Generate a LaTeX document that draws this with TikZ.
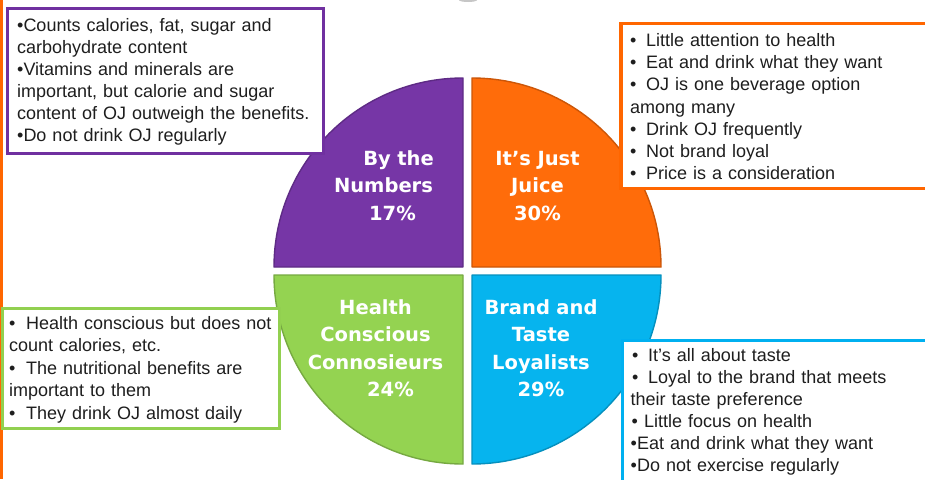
\documentclass[tikz,border=0pt]{standalone}
\usepackage{fontspec}
\setmainfont{Liberation Sans}
\newfontfamily\labelfont{DejaVu Sans}
\definecolor{cpurple}{HTML}{7636A6}
\definecolor{corange}{HTML}{FF6C0A}
\definecolor{cgreen}{HTML}{94D351}
\definecolor{cblue}{HTML}{06B4EE}
\definecolor{bpurple}{HTML}{7030A0}
\definecolor{borange}{HTML}{FF6600}
\definecolor{bgreen}{HTML}{92D050}
\definecolor{bblue}{HTML}{00B0F0}
\definecolor{txt}{HTML}{1E1E1E}
\newcommand\bb[1]{\makebox[#1][l]{•}}
\tikzset{
  quad/.style={fill=#1, draw=#1!80!black, line width=1.4pt, line join=round},
  qlabel/.style={anchor=base, text width=190pt, align=center, inner sep=0pt,
    text=white, font=\labelfont\bfseries\fontsize{19.5}{27.5}\selectfont},
  infobox/.style={draw=#1, line width=3pt, fill=white},
  infotext/.style={anchor=base west, text width=300pt, align=left, inner sep=0pt,
    text=txt, font=\fontsize{18}{22.1}\selectfont}
}
\begin{document}
\begin{tikzpicture}[x=1pt,y=-1pt]
\useasboundingbox (0,0) rectangle (925,479);
\clip (0,0) rectangle (925,479);
\fill[white] (0,0) rectangle (925,479);
% faint grey shape at top
\fill[gray!45] (468,0) ellipse (9 and 2);
% left orange bar
\fill[borange] (0,0) rectangle (3,479);

% pie quadrants
\path[quad=cpurple] (463,267) -- (274,267) arc[start angle=180,end angle=270,radius=189] -- cycle;
\path[quad=corange] (472,267) -- (472,78) arc[start angle=270,end angle=360,radius=189] -- cycle;
\path[quad=cgreen] (463,275) -- (274,275) arc[start angle=180,end angle=90,radius=189] -- cycle;
\path[quad=cblue] (472,275) -- (661,275) arc[start angle=0,end angle=90,radius=189] -- cycle;

% quadrant labels
\node[qlabel] (lp) at (383.5,165) {\hspace*{30pt}By the\\Numbers\\\hspace*{18pt}17\%};
\node[qlabel] (lo) at (537.5,165) {It’s Just\\Juice\\30\%};
\node[qlabel] (lg) at (375.5,314) {Health\\Conscious\\Connosieurs\\\hspace*{30pt}24\%};
\node[qlabel] (lb) at (541,314) {Brand and\\Taste\\Loyalists\\29\%};

% info boxes
\draw[infobox=bpurple] (7,8) rectangle (323,153);
\node[infotext] (tp) at (17,31) {•Counts calories, fat, sugar and\\
carbohydrate content\\
•Vitamins and minerals are\\
important, but calorie and sugar\\
content of OJ outweigh the benefits.\\
•Do not drink OJ regularly};

\draw[infobox=borange, line width=3.2pt] (621,23.5) rectangle (927,188.5);
\node[infotext] (to) at (630,46.7) {\bb{16pt}Little attention to health\\
\bb{16pt}Eat and drink what they want\\
\bb{16pt}OJ is one beverage option\\
among many\\
\bb{16pt}Drink OJ frequently\\
\bb{16pt}Not brand loyal\\
\bb{16pt}Price is a consideration};

\draw[infobox=bgreen] (2.5,308) rectangle (279,428);
\node[infotext, font=\fontsize{18}{22.5}\selectfont] (tg) at (9,329.3) {\bb{17pt}Health conscious but does not\\
count calories, etc.\\
\bb{17pt}The nutritional benefits are\\
important to them\\
\bb{17pt}They drink OJ almost daily};

\draw[infobox=bblue] (622,340) rectangle (927,485);
\node[infotext] (tb) at (630.5,361) {\hspace*{1.5pt}\bb{16pt}It’s all about taste\\
\hspace*{1.5pt}\bb{16pt}Loyal to the brand that meets\\
their taste preference\\
\hspace*{1pt}• Little focus on health\\
•Eat and drink what they want\\
•Do not exercise regularly};
\end{tikzpicture}
\end{document}
